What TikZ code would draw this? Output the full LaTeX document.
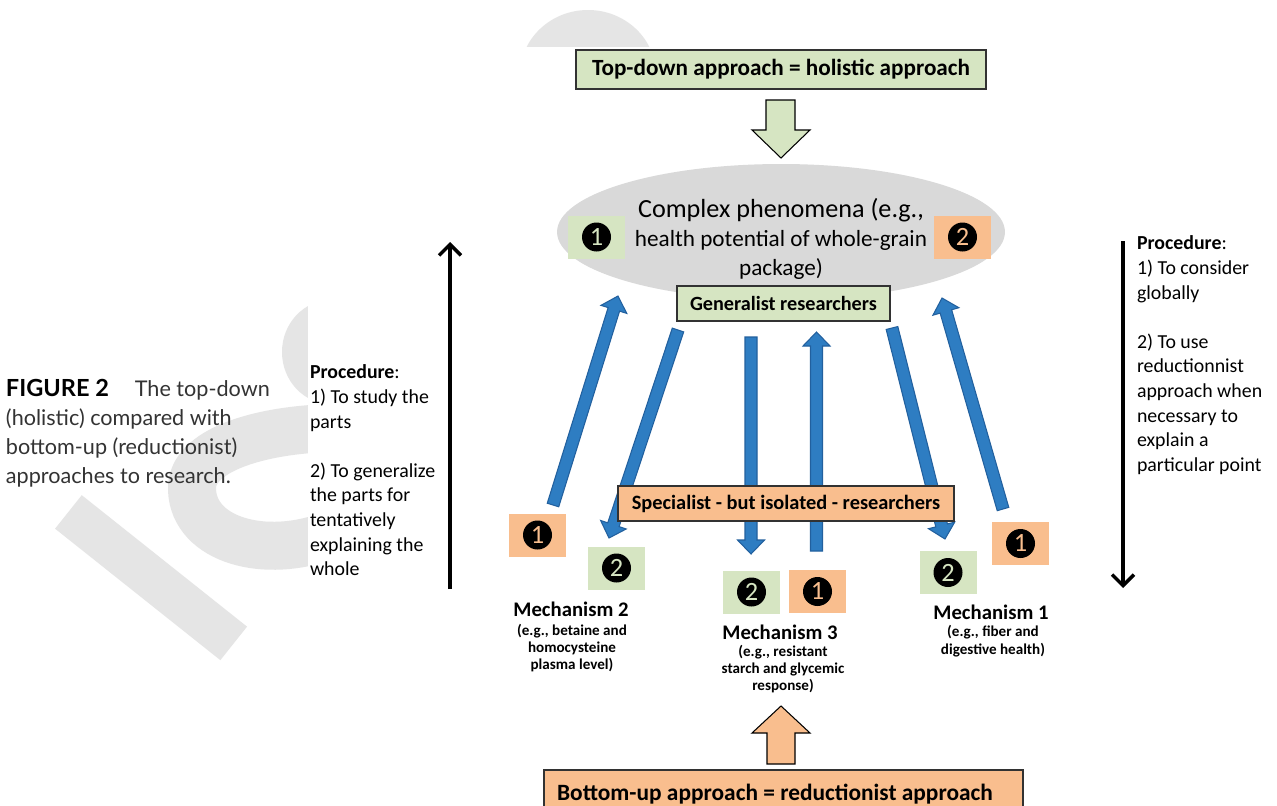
\documentclass[tikz,border=0pt]{standalone}
\usepackage{fontspec}
\setmainfont{Carlito}
\newfontfamily\capfont{Lato}
\usetikzlibrary{arrows.meta,calc,shapes.geometric}
\definecolor{lgreen}{RGB}{214,229,194}
\definecolor{lorange}{RGB}{249,190,142}
\definecolor{ellgrey}{RGB}{217,217,217}
\definecolor{wmgrey}{RGB}{229,229,229}
\definecolor{bfill}{RGB}{46,125,194}
\definecolor{bline}{RGB}{34,96,158}
\definecolor{boxline}{RGB}{50,50,50}
\newcommand\fsz[2]{\fontsize{#1}{#2}\selectfont}
\tikzset{
  every node/.style={inner sep=0pt, outer sep=0pt},
  gbox/.style={draw=boxline, line width=0.7pt, fill=lgreen, font=\bfseries},
  obox/.style={draw=boxline, line width=0.7pt, fill=lorange, font=\bfseries},
  badgebox/.style={minimum width=1.14cm, minimum height=0.86cm},
  badgedot/.style={circle, fill=black, minimum size=0.58cm, font=\fsz{15}{15}},
  barrow/.style={fill=bfill, draw=bline, line width=0.6pt, line join=miter},
  garrow/.style={fill=lgreen, draw=black, line width=0.6pt},
  oarrow/.style={fill=lorange, draw=black, line width=0.6pt},
  blk/.style={line width=0.07cm, -{Straight Barb[length=0.22cm, width=0.44cm]}},
  proc/.style={anchor=north west, align=left, font=\fsz{11.3}{14}},
  mtitle/.style={font=\bfseries\fsz{11.8}{14}},
  msub/.style={align=center, font=\bfseries\fsz{8.6}{9.9}}
}
\newcommand\blockarrow[2]{%
  \path ($(#2)!0.28cm!(#1)$) coordinate (hb);
  \draw[barrow] ($(#1)!0.12cm!90:(#2)$) -- ($(hb)!0.12cm!-90:(#1)$) -- ($(hb)!0.27cm!-90:(#1)$) -- (#2) -- ($(hb)!0.27cm!90:(#1)$) -- ($(hb)!0.12cm!90:(#1)$) -- ($(#1)!0.12cm!-90:(#2)$) -- cycle;}
\newcommand\badge[4]{%
  \node[badgebox, fill=#3] (#1) at (#2) {};
  \node[badgedot] (#1d) at (#1) {\color{#3}#4};}
\begin{document}
\begin{tikzpicture}[x=0.02cm,y=-0.02cm]
\useasboundingbox (0,0) rectangle (1277,805);
\clip (0,0) rectangle (1277,805);
\fill[white] (0,0) rectangle (1277,805);
% watermark
\begin{scope}[shift={(234,643)}, x={(0.0124cm,0.0156cm)}, y={(-0.0156cm,0.0124cm)}]
  \fill[wmgrey] (-22,0) -- (21,0) -- (21,212) -- (-22,212) -- cycle;
\end{scope}
\draw[wmgrey, line width=0.96cm] (330,428) .. controls (260,430) and (190,450) .. (192,490) .. controls (194,540) and (265,560) .. (330,535);
\fill[wmgrey] (331,352) ellipse [x radius=49, y radius=52];
\fill[wmgrey] (588,75) ellipse [x radius=68, y radius=65];
\fill[white] (308,47) rectangle (1277,805);
% caption
\node[anchor=north west, align=left, font=\capfont\fsz{12.3}{16.6}, text=black!80] (cap) at (6,379)
  {{\fsz{13.4}{16.6}\bfseries\color{black}FIGURE 2}\hspace{1.2em}The top-down\\(holistic) compared with\\bottom-up (reductionist)\\approaches to research.};
% top
\node[gbox, minimum width=8.2cm, minimum height=0.78cm, font=\bfseries\fsz{13.2}{16}] (top) at (781,69.5) {Top-down approach = holistic approach};
\draw[garrow] (766,100) -- (795,100) -- (795,130) -- (810,130) -- (781,158) -- (752,130) -- (766,130) -- cycle;
% ellipse
\node[ellipse, fill=ellgrey, minimum width=8.96cm, minimum height=2.72cm] (ell) at (781,232) {};
\node[align=center, font=\fsz{13.2}{16.4}] (elltext) at (781,239) {{\fsz{14.9}{16.4}Complex phenomena (e.g.,}\\health potential of whole-grain\\package)};
\badge{eb1}{596.5,237}{lgreen}{1}
\badge{eb2}{962.5,237}{lorange}{2}
% blue arrows
\coordinate (a1s) at (553,505); \coordinate (a1e) at (618,296);
\coordinate (a2s) at (678,330); \coordinate (a2e) at (609,538);
\coordinate (a3s) at (751,337); \coordinate (a3e) at (751,554);
\coordinate (a4s) at (816.5,551); \coordinate (a4e) at (816.5,332);
\coordinate (a5s) at (892,328); \coordinate (a5e) at (945,539);
\coordinate (a6s) at (1003,509); \coordinate (a6e) at (942,298);
\blockarrow{a1s}{a1e}
\blockarrow{a2s}{a2e}
\blockarrow{a3s}{a3e}
\blockarrow{a4s}{a4e}
\blockarrow{a5s}{a5e}
\blockarrow{a6s}{a6e}
% boxes
\node[gbox, minimum width=4.26cm, minimum height=0.7cm, font=\bfseries\fsz{11.5}{14}] (gen) at (783.5,303.5) {Generalist researchers};
\node[obox, minimum width=6.72cm, minimum height=0.7cm, font=\bfseries\fsz{11.6}{14}] (spec) at (786,503.5) {Specialist - but isolated - researchers};
% badges
\badge{m2a}{537.5,535}{lorange}{1}
\badge{m2b}{616.5,568}{lgreen}{2}
\badge{m3a}{751.5,592}{lgreen}{2}
\badge{m3b}{817.5,591.5}{lorange}{1}
\badge{m1a}{948,572.5}{lgreen}{2}
\badge{m1b}{1020.5,543.5}{lorange}{1}
% mechanisms
\node[mtitle] (m2t) at (571,609) {Mechanism 2};
\node[msub] (m2s) at (572,648) {(e.g., betaine and\\homocysteine\\plasma level)};
\node[mtitle] (m3t) at (780,632) {Mechanism 3};
\node[msub] (m3s) at (783,669) {(e.g., resistant\\starch and glycemic\\response)};
\node[mtitle] (m1t) at (991,612) {Mechanism 1};
\node[msub] (m1s) at (993,641) {(e.g., fiber and\\digestive health)};
% bottom
\draw[oarrow] (767,764) -- (795,764) -- (795,733) -- (810,733) -- (781,706) -- (752,733) -- (767,733) -- cycle;
\node[obox, minimum width=9.58cm, minimum height=0.96cm] (bot) at (783.5,794) {};
\node[font=\bfseries\fsz{13.3}{16}] (bottxt) at (775,794) {Bottom-up approach = reductionist approach};
% procedures
\node[proc] (procL) at (310,365) {\textbf{Procedure}:\\1) To study the\\parts\\[14pt]2) To generalize\\the parts for\\tentatively\\explaining the\\whole};
\coordinate (la1) at (450,589); \coordinate (la2) at (450,242);
\draw[blk] (la1) -- (la2);
\node[proc] (procR) at (1137,236) {\textbf{Procedure}:\\1) To consider\\globally\\[14pt]2) To use\\reductionnist\\approach when\\necessary to\\explain a\\particular point};
\coordinate (ra1) at (1123,241); \coordinate (ra2) at (1123,588);
\draw[blk] (ra1) -- (ra2);
\end{tikzpicture}
\end{document}
